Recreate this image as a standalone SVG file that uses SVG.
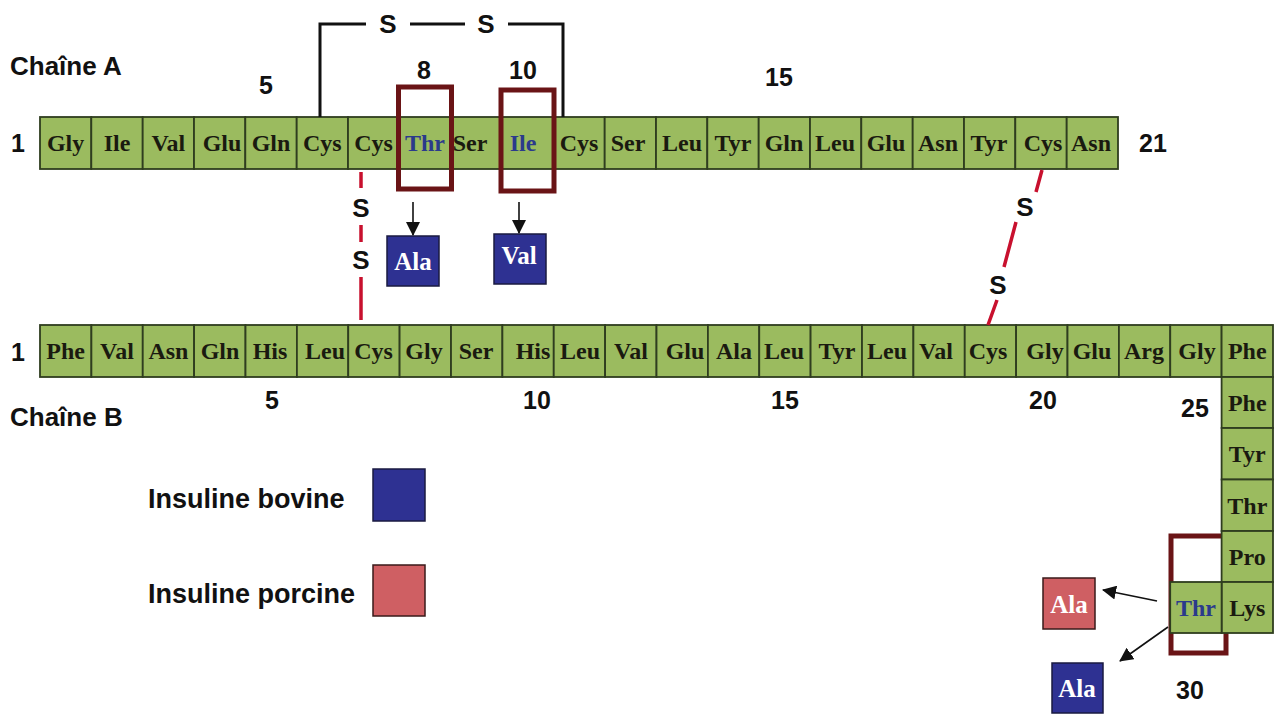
<svg xmlns="http://www.w3.org/2000/svg" width="1277" height="715" viewBox="0 0 1277 715">
<style>
.cell{fill:#9bbb5f;stroke:#2f3d1f;stroke-width:1.8}
.aa{font-family:"Liberation Serif","Times New Roman",serif;font-weight:bold;font-size:24px;fill:#1a1a10;text-anchor:middle}
.aab{fill:#2b3a8c}
.lbl{font-family:"Liberation Sans",Arial,sans-serif;font-weight:bold;font-size:26px;fill:#111}
.leg{font-family:"Liberation Sans",Arial,sans-serif;font-weight:bold;font-size:27px;fill:#111}
.num{font-family:"Liberation Sans",Arial,sans-serif;font-weight:bold;font-size:25px;fill:#111;text-anchor:middle}
.s{font-family:"Liberation Sans",Arial,sans-serif;font-weight:bold;font-size:26px;fill:#111;text-anchor:middle}
.hl{fill:none;stroke:#6a1416;stroke-width:5}
.bov{fill:#2e3192;stroke:#1a1a40;stroke-width:1.5}
.por{fill:#cf5f63;stroke:#3a1a1a;stroke-width:1.5}
.sub{font-family:"Liberation Serif","Times New Roman",serif;font-weight:bold;font-size:25px;fill:#fff;text-anchor:middle}
.br{fill:none;stroke:#111;stroke-width:3}
.ss{fill:none;stroke:#c8102e;stroke-width:3.5}
.arr{fill:none;stroke:#111;stroke-width:1.6}
</style>
<defs>
<marker id="ah" markerUnits="userSpaceOnUse" markerWidth="14" markerHeight="14" refX="13" refY="7" orient="auto">
<path d="M0,0 L14,7 L0,14 Z" fill="#111"/>
</marker>
</defs>

<g id="titles">
<text class="lbl" x="10" y="75">Chaîne A</text>
<text class="lbl" x="10" y="426">Chaîne B</text>
</g>

<g id="chainA-numbers">
<text class="num" x="18" y="152">1</text>
<text class="num" x="266" y="94">5</text>
<text class="num" x="424" y="79">8</text>
<text class="num" x="523" y="79">10</text>
<text class="num" x="779" y="86">15</text>
<text class="num" x="1153" y="152">21</text>
</g>

<g id="chainA">
<g id="A1"><rect class="cell" x="40" y="117" width="51.3" height="52"/><text class="aa" x="65.6" y="151">Gly</text></g>
<g id="A2"><rect class="cell" x="91.3" y="117" width="51.4" height="52"/><text class="aa" x="117" y="151">Ile</text></g>
<g id="A3"><rect class="cell" x="142.7" y="117" width="51.3" height="52"/><text class="aa" x="168.3" y="151">Val</text></g>
<g id="A4"><rect class="cell" x="194" y="117" width="51.3" height="52"/><text class="aa" x="222" y="151">Glu</text></g>
<g id="A5"><rect class="cell" x="245.3" y="117" width="51.4" height="52"/><text class="aa" x="271" y="151">Gln</text></g>
<g id="A6"><rect class="cell" x="296.7" y="117" width="51.3" height="52"/><text class="aa" x="322.3" y="151">Cys</text></g>
<g id="A7"><rect class="cell" x="348" y="117" width="51.3" height="52"/><text class="aa" x="373.6" y="151">Cys</text></g>
<g id="A8"><rect class="cell" x="399.3" y="117" width="51.4" height="52"/><text class="aa aab" x="425" y="151">Thr</text></g>
<g id="A9"><rect class="cell" x="450.7" y="117" width="51.3" height="52"/><text class="aa" x="470" y="151">Ser</text></g>
<g id="A10"><rect class="cell" x="502" y="117" width="51.3" height="52"/><text class="aa aab" x="523" y="151">Ile</text></g>
<g id="A11"><rect class="cell" x="553.3" y="117" width="51.4" height="52"/><text class="aa" x="579" y="151">Cys</text></g>
<g id="A12"><rect class="cell" x="604.7" y="117" width="51.3" height="52"/><text class="aa" x="628" y="151">Ser</text></g>
<g id="A13"><rect class="cell" x="656" y="117" width="51.3" height="52"/><text class="aa" x="682" y="151">Leu</text></g>
<g id="A14"><rect class="cell" x="707.3" y="117" width="51.4" height="52"/><text class="aa" x="733" y="151">Tyr</text></g>
<g id="A15"><rect class="cell" x="758.7" y="117" width="51.3" height="52"/><text class="aa" x="784" y="151">Gln</text></g>
<g id="A16"><rect class="cell" x="810" y="117" width="51.3" height="52"/><text class="aa" x="835" y="151">Leu</text></g>
<g id="A17"><rect class="cell" x="861.3" y="117" width="51.4" height="52"/><text class="aa" x="886" y="151">Glu</text></g>
<g id="A18"><rect class="cell" x="912.7" y="117" width="51.3" height="52"/><text class="aa" x="938" y="151">Asn</text></g>
<g id="A19"><rect class="cell" x="964" y="117" width="51.3" height="52"/><text class="aa" x="989" y="151">Tyr</text></g>
<g id="A20"><rect class="cell" x="1015.3" y="117" width="51.4" height="52"/><text class="aa" x="1043" y="151">Cys</text></g>
<g id="A21"><rect class="cell" x="1066.7" y="117" width="51.3" height="52"/><text class="aa" x="1091" y="151">Asn</text></g>
</g>

<g id="highlight-A8"><rect class="hl" x="398.5" y="87" width="53" height="102"/></g>
<g id="highlight-A10"><rect class="hl" x="501" y="90" width="53" height="101"/></g>

<g id="chainB-numbers">
<text class="num" x="18" y="361">1</text>
<text class="num" x="272" y="409">5</text>
<text class="num" x="537" y="409">10</text>
<text class="num" x="785" y="409">15</text>
<text class="num" x="1043" y="409">20</text>
<text class="num" x="1195" y="417">25</text>
<text class="num" x="1190" y="699">30</text>
</g>

<g id="highlight-B30"><rect class="hl" x="1171" y="536" width="55" height="117"/></g>

<g id="chainB">
<g id="B1"><rect class="cell" x="40" y="325" width="51.4" height="52"/><text class="aa" x="65.7" y="359">Phe</text></g>
<g id="B2"><rect class="cell" x="91.4" y="325" width="51.35" height="52"/><text class="aa" x="117" y="359">Val</text></g>
<g id="B3"><rect class="cell" x="142.75" y="325" width="51.35" height="52"/><text class="aa" x="168.4" y="359">Asn</text></g>
<g id="B4"><rect class="cell" x="194.1" y="325" width="51.4" height="52"/><text class="aa" x="220" y="359">Gln</text></g>
<g id="B5"><rect class="cell" x="245.5" y="325" width="51.4" height="52"/><text class="aa" x="270" y="359">His</text></g>
<g id="B6"><rect class="cell" x="296.9" y="325" width="51.35" height="52"/><text class="aa" x="325" y="359">Leu</text></g>
<g id="B7"><rect class="cell" x="348.25" y="325" width="51.35" height="52"/><text class="aa" x="373.5" y="359">Cys</text></g>
<g id="B8"><rect class="cell" x="399.6" y="325" width="51.4" height="52"/><text class="aa" x="424" y="359">Gly</text></g>
<g id="B9"><rect class="cell" x="451" y="325" width="51.4" height="52"/><text class="aa" x="476" y="359">Ser</text></g>
<g id="B10"><rect class="cell" x="502.4" y="325" width="51.35" height="52"/><text class="aa" x="533" y="359">His</text></g>
<g id="B11"><rect class="cell" x="553.75" y="325" width="51.35" height="52"/><text class="aa" x="580" y="359">Leu</text></g>
<g id="B12"><rect class="cell" x="605.1" y="325" width="51.4" height="52"/><text class="aa" x="631" y="359">Val</text></g>
<g id="B13"><rect class="cell" x="656.5" y="325" width="51.4" height="52"/><text class="aa" x="685" y="359">Glu</text></g>
<g id="B14"><rect class="cell" x="707.9" y="325" width="51.35" height="52"/><text class="aa" x="734" y="359">Ala</text></g>
<g id="B15"><rect class="cell" x="759.25" y="325" width="51.35" height="52"/><text class="aa" x="784" y="359">Leu</text></g>
<g id="B16"><rect class="cell" x="810.6" y="325" width="51.4" height="52"/><text class="aa" x="837" y="359">Tyr</text></g>
<g id="B17"><rect class="cell" x="862" y="325" width="51.4" height="52"/><text class="aa" x="887" y="359">Leu</text></g>
<g id="B18"><rect class="cell" x="913.4" y="325" width="51.35" height="52"/><text class="aa" x="936" y="359">Val</text></g>
<g id="B19"><rect class="cell" x="964.75" y="325" width="51.35" height="52"/><text class="aa" x="988" y="359">Cys</text></g>
<g id="B20"><rect class="cell" x="1016.1" y="325" width="51.4" height="52"/><text class="aa" x="1045" y="359">Gly</text></g>
<g id="B21"><rect class="cell" x="1067.5" y="325" width="51.4" height="52"/><text class="aa" x="1092" y="359">Glu</text></g>
<g id="B22"><rect class="cell" x="1118.9" y="325" width="51.35" height="52"/><text class="aa" x="1144" y="359">Arg</text></g>
<g id="B23"><rect class="cell" x="1170.25" y="325" width="51.35" height="52"/><text class="aa" x="1197" y="359">Gly</text></g>
<g id="B24"><rect class="cell" x="1221.6" y="325" width="51.4" height="52"/><text class="aa" x="1247.3" y="359">Phe</text></g>
<g id="B25"><rect class="cell" x="1221.6" y="377" width="51.4" height="51"/><text class="aa" x="1247.3" y="411">Phe</text></g>
<g id="B26"><rect class="cell" x="1221.6" y="428" width="51.4" height="51.5"/><text class="aa" x="1247.3" y="462">Tyr</text></g>
<g id="B27"><rect class="cell" x="1221.6" y="479.5" width="51.4" height="51.5"/><text class="aa" x="1247.3" y="514">Thr</text></g>
<g id="B28"><rect class="cell" x="1221.6" y="531" width="51.4" height="51"/><text class="aa" x="1247.3" y="565">Pro</text></g>
<g id="B29"><rect class="cell" x="1221.6" y="582" width="51.4" height="51"/><text class="aa" x="1247.3" y="616">Lys</text></g>
<g id="B30"><rect class="cell" x="1170.2" y="582" width="51.4" height="51"/><text class="aa aab" x="1196" y="616">Thr</text></g>
</g>

<g id="sub-A8-bovine"><rect class="bov" x="387" y="236" width="52" height="50"/><text class="sub" x="413" y="270">Ala</text></g>
<g id="sub-A10-bovine"><rect class="bov" x="494" y="234" width="52" height="50"/><text class="sub" x="519" y="264">Val</text></g>
<g id="sub-B30-porcine"><rect class="por" x="1043" y="578" width="52" height="51"/><text class="sub" x="1069" y="613">Ala</text></g>
<g id="sub-B30-bovine"><rect class="bov" x="1052" y="663" width="51" height="50"/><text class="sub" x="1077" y="697">Ala</text></g>

<g id="legend">
<text class="leg" x="148" y="508">Insuline bovine</text>
<rect class="bov" x="373" y="469" width="52" height="52"/>
<text class="leg" x="148" y="603">Insuline porcine</text>
<rect class="por" x="373" y="565" width="52" height="51"/>
</g>

<g id="connectors">
<g id="bridge-A6-A11">
<path class="br" d="M320,117 V24 H366"/>
<text class="s" x="388" y="33">S</text>
<path class="br" d="M410,24 H465"/>
<text class="s" x="486" y="33">S</text>
<path class="br" d="M508,24 H563 V117"/>
</g>
<g id="bridge-A7-B7">
<path class="ss" d="M361,172 V188 M361,225 V242 M361,277 V320"/>
<text class="s" x="361" y="217">S</text>
<text class="s" x="361" y="269">S</text>
</g>
<g id="bridge-A20-B19">
<path class="ss" d="M1042,170 L1036,192 M1016,222 L1004,267 M997,300 L988,325"/>
<text class="s" x="1025" y="216">S</text>
<text class="s" x="998" y="294">S</text>
</g>
<path class="arr" d="M413,202 V235" marker-end="url(#ah)"/>
<path class="arr" d="M519,202 V233" marker-end="url(#ah)"/>
<path class="arr" d="M1157,601 L1103,590" marker-end="url(#ah)"/>
<path class="arr" d="M1168,627 L1120,661" marker-end="url(#ah)"/>
</g>
</svg>
